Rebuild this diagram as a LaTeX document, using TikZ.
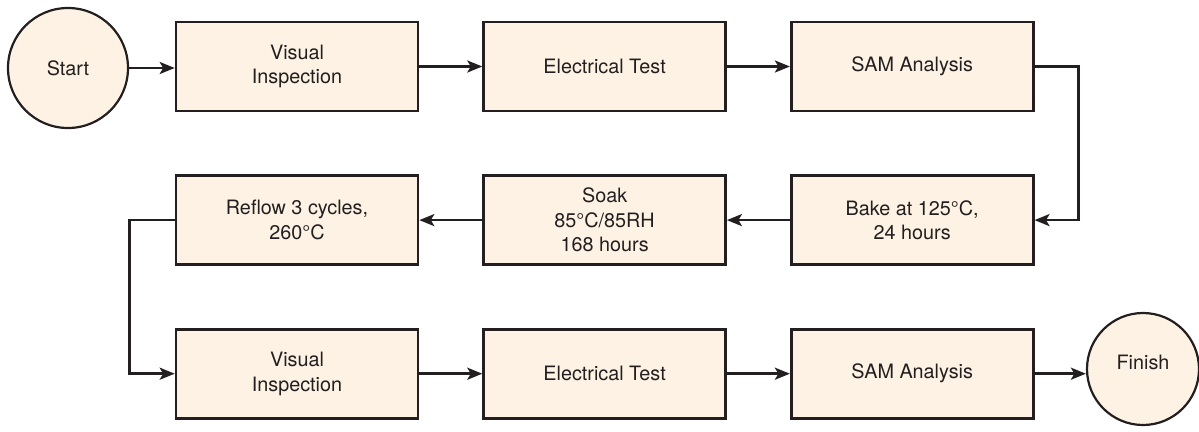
\documentclass[tikz,border=0pt]{standalone}
\usepackage{fontspec}
\setmainfont{TeX Gyre Heros}
\usetikzlibrary{positioning, arrows.meta}
\definecolor{cream}{HTML}{FDF2E3}
\definecolor{ink}{HTML}{231F20}

\begin{document}
\begin{tikzpicture}[x=1pt, y=1pt,
    box/.style={draw=ink, line width=2.6pt, fill=cream, minimum width=242pt, minimum height=89pt,
        align=center, text=ink, font=\fontsize{19.8}{24.5}\selectfont},
    term/.style={draw=ink, circle, line width=2.2pt, fill=cream, inner sep=0pt,
        text=ink, font=\fontsize{19.8}{24.5}\selectfont},
    flow/.style={draw=ink, line width=2.5pt, -{Stealth[length=15pt, width=12pt, inset=3.5pt]}}]
    \useasboundingbox (0,0) rectangle (1199,-431);

    \node[term, minimum size=120pt] (start) at (68,-68) {Start};
    \node[box] (vis1) at (297,-66.5) {Visual\\Inspection};
    \node[box, right=63pt of vis1] (elec1) {Electrical Test};
    \node[box, right=63pt of elec1] (sam1) {SAM Analysis};

    \node[box, below=62pt of sam1] (bake) {Bake at 125°C,\\24 hours};
    \node[box, left=63pt of bake] (soak) {Soak\\85°C/85RH\\168 hours};
    \node[box, left=63pt of soak] (reflow) {Reflow 3 cycles,\\260°C};

    \node[box, below=62pt of reflow] (vis2) {Visual\\Inspection};
    \node[box, right=63pt of vis2] (elec2) {Electrical Test};
    \node[box, right=63pt of elec2] (sam2) {SAM Analysis};
    \node[term, minimum size=112pt] (finish) at (1143,-369) {\raisebox{13pt}{Finish}};

    % first row
    \draw[flow] (start) -- (vis1.west |- start);
    \draw[flow] (vis1) -- (elec1);
    \draw[flow] (elec1) -- (sam1);
    \draw[flow] (sam1.east) -- ++(44,0) |- (bake.east);

    % second row, right to left
    \draw[flow] (bake) -- (soak);
    \draw[flow] (soak) -- (reflow);
    \draw[flow] (reflow.west) -- ++(-45,0) |- (vis2.west);

    % last row
    \draw[flow] (vis2) -- (elec2);
    \draw[flow] (elec2) -- (sam2);
    \draw[flow] (sam2.east) -- (finish.west |- sam2.east);
\end{tikzpicture}
\end{document}
